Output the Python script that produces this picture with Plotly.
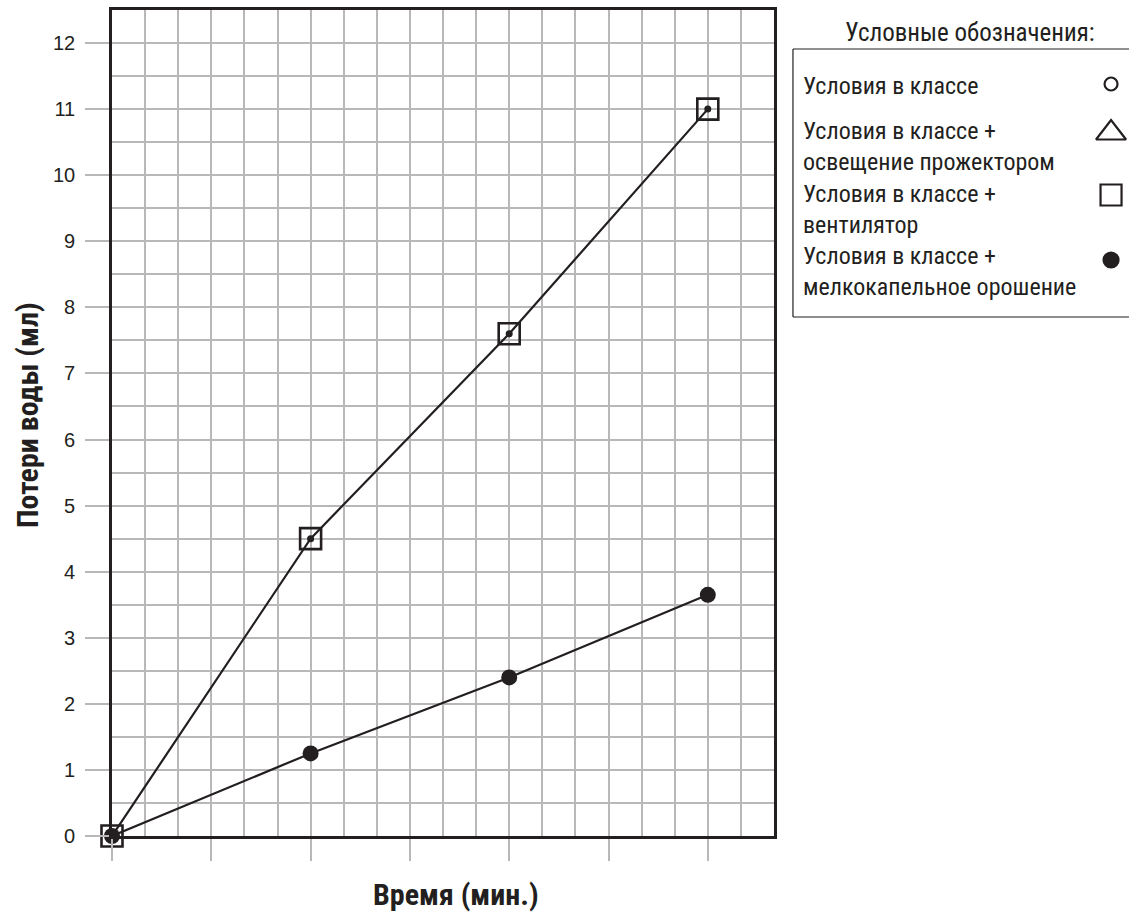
import plotly.graph_objects as go

# ---------------- data ----------------
time_steps = [0, 2, 4, 6]                    # major x tick index (no labels shown)
loss_fan = [0, 4.5, 7.6, 11.0]               # Условия в классе + вентилятор
loss_mist = [0, 1.25, 2.4, 3.65]             # Условия в классе + мелкокапельное орошение

y_ticks = list(range(0, 13))

x_title = "Время (мин.)"
y_title = "Потери воды (мл)"
legend_title = "Условные обозначения:"
legend_labels = [
    "Условия в классе",
    "Условия в классе +<br>освещение прожектором",
    "Условия в классе +<br>вентилятор",
    "Условия в классе +<br>мелкокапельное орошение",
]
legend_symbols = ["circle-open", "triangle-up-open", "square-open", "circle"]

# ---------------- style / layout (pixels) ----------------
W, H = 1129, 914
ML, MR, MT, MB = 112, 0, 10, 78
PW = W - ML - MR
PH = H - MT - MB
plot_right = 774
dark = "#231f20"
grid = "#b8b8b8"
txt_font = "Roboto Condensed, Liberation Sans Narrow, Arial Narrow, Roboto, sans-serif"
num_font = "Liberation Sans, Arial, Helvetica, sans-serif"

LB_L, LB_T, LB_B = 792, 49, 317
leg_text_x = 800
leg_text_y = [86, 146, 209, 271]
leg_marker_y = [84, 133, 195, 260]
leg_marker_x = 1111
leg_marker_sizes = [13, 26, 21, 15]


def px_x(p):
    return (p - ML) / PW


def px_y(p):
    return (H - MB - p) / PH


fig = go.Figure()

# fan series: line with small vertex dots, plus square markers
fig.add_trace(go.Scatter(
    x=time_steps, y=loss_fan, mode="lines+markers",
    line=dict(color=dark, width=2.2),
    marker=dict(symbol="circle", size=7, color=dark),
    cliponaxis=False, showlegend=False, xaxis="x", yaxis="y"))
fig.add_trace(go.Scatter(
    x=time_steps, y=loss_fan, mode="markers",
    marker=dict(symbol="square-open", size=21, color=dark, line=dict(width=2.6, color=dark)),
    cliponaxis=False, showlegend=False, xaxis="x", yaxis="y"))
# mist series
fig.add_trace(go.Scatter(
    x=time_steps, y=loss_mist, mode="lines+markers",
    line=dict(color=dark, width=2.2),
    marker=dict(symbol="circle", size=16, color=dark),
    cliponaxis=False, showlegend=False, xaxis="x", yaxis="y"))

# legend symbols on a helper subplot whose axes are in page pixels
fig.add_trace(go.Scatter(
    x=[leg_marker_x] * len(legend_symbols), y=leg_marker_y, mode="markers",
    marker=dict(symbol=legend_symbols, size=leg_marker_sizes, color=dark, opacity=1,
                line=dict(width=2.2, color=dark)),
    cliponaxis=False, showlegend=False, hoverinfo="skip", xaxis="x2", yaxis="y2"))

annotations = []
for lab, yy in zip(legend_labels, leg_text_y):
    annotations.append(dict(
        x=leg_text_x, y=yy, xref="x2", yref="y2", text=lab, showarrow=False,
        xanchor="left", yanchor="middle", align="left",
        font=dict(family=txt_font, size=24, color=dark)))
annotations.append(dict(
    x=970, y=32, xref="x2", yref="y2", text=legend_title, showarrow=False,
    xanchor="center", yanchor="middle",
    font=dict(family=txt_font, size=25, color=dark)))
# axis titles
annotations.append(dict(
    x=px_x(456), y=px_y(894), xref="paper", yref="paper", text="<b>" + x_title + "</b>",
    showarrow=False, xanchor="center", yanchor="middle",
    font=dict(family=txt_font, size=30, color=dark)))
annotations.append(dict(
    x=px_x(27), y=px_y(415), xref="paper", yref="paper", text="<b>" + y_title + "</b>",
    showarrow=False, xanchor="center", yanchor="middle", textangle=-90,
    font=dict(family=txt_font, size=30, color=dark)))

shapes = [
    dict(type="line", xref="x2", yref="y2", x0=LB_L, x1=LB_L, y0=LB_T, y1=LB_B,
         line=dict(color=dark, width=1.2)),
    dict(type="line", xref="x2", yref="y2", x0=LB_L, x1=W + 5, y0=LB_T, y1=LB_T,
         line=dict(color=dark, width=1.2)),
    dict(type="line", xref="x2", yref="y2", x0=LB_L, x1=W + 5, y0=LB_B, y1=LB_B,
         line=dict(color=dark, width=1.2)),
]

xdom_right = (plot_right - ML) / PW

fig.update_layout(
    width=W, height=H,
    margin=dict(l=ML, r=MR, t=MT, b=MB, pad=0),
    paper_bgcolor="white", plot_bgcolor="rgba(0,0,0,0)",
    showlegend=False,
    xaxis=dict(
        domain=[0, xdom_right], range=[0, 20 / 3], tick0=0, dtick=1,
        showticklabels=False, ticks="outside", ticklen=22, tickwidth=1.6, tickcolor=grid,
        showgrid=True, gridcolor=grid, gridwidth=1.6,
        minor=dict(dtick=1 / 3, tick0=0, showgrid=True, gridcolor=grid, gridwidth=1.6),
        showline=True, mirror=True, linecolor=dark, linewidth=2.6, zeroline=False,
        automargin=False, fixedrange=True, anchor="y"),
    yaxis=dict(
        domain=[0, 1], range=[0, 12.5], tickvals=y_ticks,
        ticks="outside", ticklen=24, tickwidth=1.6, tickcolor=grid,
        tickfont=dict(family=num_font, size=20, color=dark), ticklabelstandoff=6,
        showgrid=True, gridcolor=grid, gridwidth=1.6,
        minor=dict(dtick=0.5, tick0=0, showgrid=True, gridcolor=grid, gridwidth=1.6),
        showline=True, mirror=True, linecolor=dark, linewidth=2.6, zeroline=False,
        automargin=False, fixedrange=True, anchor="x"),
    xaxis2=dict(domain=[xdom_right + 0.001, 1], range=[plot_right, W], visible=False,
                anchor="y2", fixedrange=True),
    yaxis2=dict(domain=[0, 1], range=[H - MB, MT], visible=False,
                anchor="x2", fixedrange=True),
    annotations=annotations,
    shapes=shapes,
)

fig.write_html("out.html", config={"displayModeBar": False},
               post_script="document.body.style.margin='0';")
